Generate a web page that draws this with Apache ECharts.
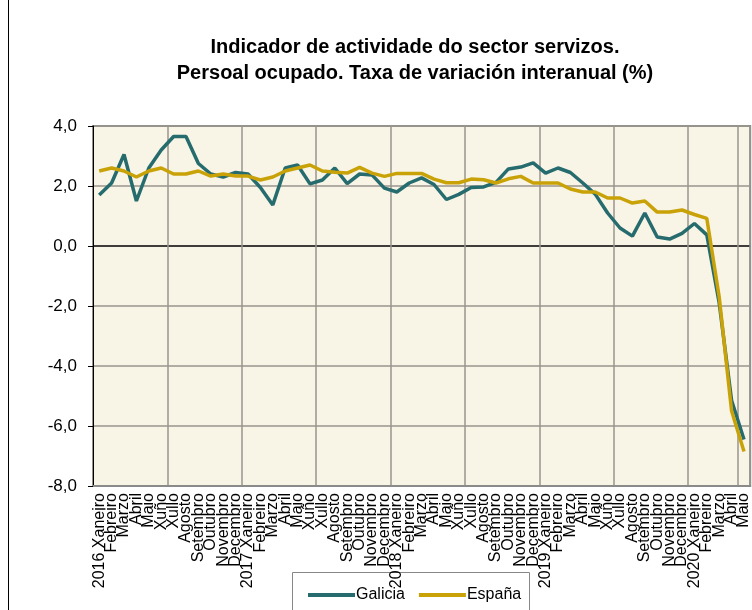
<!DOCTYPE html>
<html>
<head>
<meta charset="utf-8">
<script src="https://cdn.jsdelivr.net/npm/echarts@6/dist/echarts.min.js"></script>
<style>
    html, body { margin: 0; padding: 0; background: #fff; }
    #chart { width: 752px; height: 610px; }
</style>
</head>
<body>
<div id="chart"></div>
<script>
// meses e anos do eixo X
const years = ["2016", "2017", "2018", "2019", "2020"];
const months = ["Xaneiro", "Febreiro", "Marzo", "Abril", "Maio", "Xuño", "Xullo",
    "Agosto", "Setembro", "Outubro", "Novembro", "Decembro"];
const lastYearMonths = 5;

// taxa de variación interanual (%)
const galicia = [
    1.7, 2.1, 3.05, 1.5, 2.6, 3.2, 3.65, 3.65, 2.75, 2.4, 2.3, 2.45,
    2.4, 1.95, 1.37, 2.6, 2.7, 2.07, 2.2, 2.6, 2.08, 2.4, 2.37, 1.93,
    1.8, 2.1, 2.27, 2.05, 1.55, 1.72, 1.95, 1.97, 2.12, 2.57, 2.63, 2.77,
    2.43, 2.6, 2.45, 2.1, 1.73, 1.1, 0.6, 0.33, 1.1, 0.3, 0.23, 0.42,
    0.75, 0.37, -1.9, -5.15, -6.45
];
const espana = [
    2.5, 2.6, 2.5, 2.3, 2.5, 2.6, 2.4, 2.4, 2.5, 2.33, 2.4, 2.33,
    2.33, 2.2, 2.3, 2.5, 2.6, 2.7, 2.5, 2.46, 2.43, 2.62, 2.43, 2.32,
    2.42, 2.42, 2.42, 2.23, 2.11, 2.11, 2.23, 2.21, 2.1, 2.24, 2.32, 2.1,
    2.1, 2.1, 1.9, 1.8, 1.8, 1.6, 1.6, 1.43, 1.5, 1.13, 1.13, 1.2,
    1.05, 0.92, -1.7, -5.5, -6.85
];
const yTicks = { min: -8, max: 4, step: 2 };

let categories = [];
years.forEach((y, yi) => {
    let n = yi === years.length - 1 ? lastYearMonths : 12;
    for (let m = 0; m < n; m++) {
        categories.push(m === 0 ? y + " " + months[m] : months[m]);
    }
});

let myChart = echarts.init(document.getElementById("chart"));

let gridGray = "#9a968e";

let option = {
    animation: false,
    textStyle: { fontFamily: "Liberation Sans, Arial, sans-serif" },
    title: {
        text: "Indicador de actividade do sector servizos.\nPersoal ocupado. Taxa de variación interanual (%)",
        left: 410,
        top: 29,
        textAlign: "center",
        textStyle: {
            fontSize: 20,
            fontWeight: "bold",
            color: "#000",
            lineHeight: 26
        }
    },
    legend: {
        left: 303,
        top: 582,
        icon: "rect",
        itemWidth: 47,
        itemHeight: 4,
        itemGap: 14,
        textStyle: { fontSize: 16, color: "#000", padding: [0, 0, 0, -4] },
        data: ["Galicia", "España"]
    },
    graphic: [
        {
            type: "rect",
            shape: { x: 292.5, y: 572.5, width: 237, height: 50 },
            style: { fill: "#fff", stroke: "#888", lineWidth: 1 },
            z: -1
        },
        {
            type: "line",
            shape: { x1: 8.5, y1: 0, x2: 8.5, y2: 610 },
            style: { stroke: "#000", lineWidth: 1 }
        }
    ],
    grid: {
        left: 93,
        right: 1,
        top: 126,
        bottom: 124,
        show: true,
        backgroundColor: "#f8f4e6",
        borderColor: "#8a8a8a",
        borderWidth: 2
    },
    xAxis: {
        type: "category",
        boundaryGap: true,
        data: categories,
        axisLine: { onZero: false, lineStyle: { color: "#8a8a8a", width: 2 } },
        axisTick: { show: false },
        axisLabel: {
            interval: 0,
            rotate: 90,
            fontSize: 16,
            color: "#000",
            margin: 7
        },
        splitLine: {
            show: true,
            interval: 5,
            lineStyle: { color: gridGray, width: 1.5 }
        }
    },
    yAxis: {
        type: "value",
        min: yTicks.min,
        max: yTicks.max,
        interval: yTicks.step,
        axisLine: { show: true, lineStyle: { color: "#000", width: 1 } },
        axisTick: { show: true, length: 5, lineStyle: { color: "#000" } },
        axisLabel: {
            fontSize: 17,
            color: "#000",
            margin: 16,
            formatter: v => v.toFixed(1).replace(".", ",")
        },
        splitLine: {
            lineStyle: {
                color: [gridGray, gridGray, gridGray, gridGray, "#000", gridGray, gridGray],
                width: 1.5
            }
        }
    },
    series: [
        {
            name: "Galicia",
            type: "line",
            data: galicia,
            symbol: "none",
            color: "#266c6e",
            lineStyle: { width: 3.5 },
            z: 3
        },
        {
            name: "España",
            type: "line",
            data: espana,
            symbol: "none",
            color: "#c9a208",
            lineStyle: { width: 3.5 },
            z: 4
        }
    ]
};

myChart.setOption(option);
</script>
</body>
</html>
